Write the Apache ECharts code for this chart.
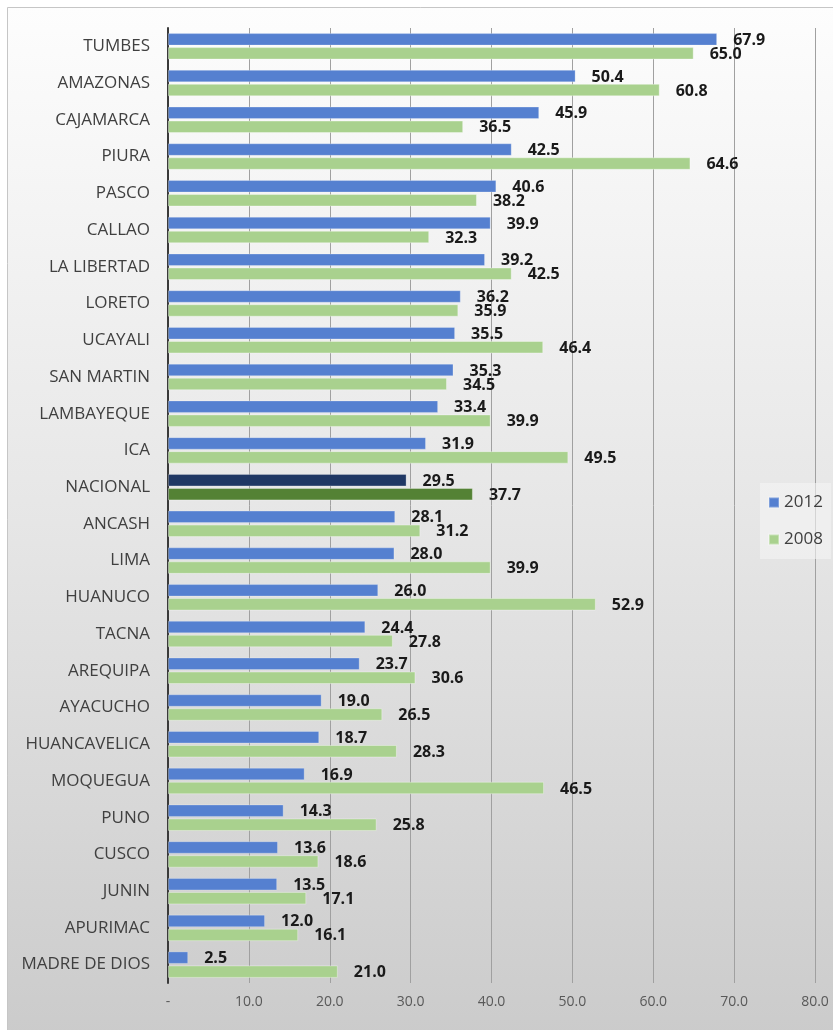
<!DOCTYPE html>
<html>
<head>
<meta charset="utf-8">
<script src="https://cdn.jsdelivr.net/npm/echarts@6/dist/echarts.min.js"></script>
<style>
html,body{margin:0;padding:0;background:#fff;}
#chart{width:833px;height:1030px;}
</style>
</head>
<body>
<div id="chart"></div>
<script>
var regions = ['TUMBES','AMAZONAS','CAJAMARCA','PIURA','PASCO','CALLAO','LA LIBERTAD','LORETO','UCAYALI','SAN MARTIN','LAMBAYEQUE','ICA','NACIONAL','ANCASH','LIMA','HUANUCO','TACNA','AREQUIPA','AYACUCHO','HUANCAVELICA','MOQUEGUA','PUNO','CUSCO','JUNIN','APURIMAC','MADRE DE DIOS'];
var values2012 = [67.9,50.4,45.9,42.5,40.6,39.9,39.2,36.2,35.5,35.3,33.4,31.9,29.5,28.1,28.0,26.0,24.4,23.7,19.0,18.7,16.9,14.3,13.6,13.5,12.0,2.5];
var values2008 = [65.0,60.8,36.5,64.6,38.2,32.3,42.5,35.9,46.4,34.5,39.9,49.5,37.7,31.2,39.9,52.9,27.8,30.6,26.5,28.3,46.5,25.8,18.6,17.1,16.1,21.0];
var highlight = 'NACIONAL';

var chart = echarts.init(document.getElementById('chart'));

// NACIONAL se pinta con tonos oscuros
function buildData(vals, darkColor){
	return vals.map(function(v, i){
		if(regions[i] == highlight){
			return {value: v, itemStyle: {color: darkColor}};
		}
		return v;
	});
}

var labelOpt = {
	show: true,
	position: 'right',
	distance: 16,
	offset: [0, 1],
	color: '#1a1a1a',
	fontFamily: 'Open Sans',
	fontWeight: 'bold',
	fontSize: 16,
	formatter: function(p){ return p.value.toFixed(1); }
};

var option = {
	animation: false,
	graphic: [{
		type: 'rect',
		z: -10,
		shape: {x: 7.5, y: 7.5, width: 830, height: 1030},
		style: {
			fill: new echarts.graphic.LinearGradient(0, 0, 0, 1, [
				{offset: 0, color: '#fdfdfd'},
				{offset: 0.5, color: '#e6e6e6'},
				{offset: 1, color: '#cbcbcb'}
			]),
			stroke: '#c6c6c6',
			lineWidth: 1
		}
	}],
	legend: {
		orient: 'vertical',
		left: 760,
		top: 483,
		padding: [9, 8, 9, 8],
		backgroundColor: 'rgba(245,245,245,0.6)',
		itemWidth: 10,
		itemHeight: 10,
		itemGap: 16,
		icon: 'rect',
		textStyle: {fontFamily: 'Open Sans', fontSize: 17, color: '#404040', lineHeight: 21},
		data: ['2012', '2008']
	},
	grid: {left: 168, right: 18, top: 28, bottom: 47, containLabel: false},
	xAxis: {
		type: 'value',
		min: 0,
		max: 80,
		interval: 10,
		axisLine: {show: false},
		axisTick: {show: false},
		splitLine: {show: true, lineStyle: {color: '#a0a0a0', width: 1}},
		axisLabel: {
			margin: 12,
			color: '#595959',
			fontFamily: 'Open Sans',
			fontSize: 14,
			formatter: function(v){ return v == 0 ? '-' : v.toFixed(1); }
		}
	},
	yAxis: {
		type: 'category',
		inverse: true,
		data: regions,
		axisTick: {show: false},
		axisLine: {show: true, lineStyle: {color: '#3a3a3a', width: 2}},
		axisLabel: {
			margin: 18,
			color: '#404040',
			fontFamily: 'Open Sans',
			fontSize: 17
		}
	},
	series: [
		{
			name: '2012',
			type: 'bar',
			barWidth: 12.5,
			barGap: '12%',
			itemStyle: {color: '#5580d0', borderColor: 'rgba(255,255,255,0.25)', borderWidth: 1},
			label: labelOpt,
			data: buildData(values2012, '#203864')
		},
		{
			name: '2008',
			type: 'bar',
			barWidth: 12.5,
			itemStyle: {color: '#a9d18e', borderColor: 'rgba(255,255,255,0.35)', borderWidth: 1},
			label: labelOpt,
			data: buildData(values2008, '#548235')
		}
	]
};
chart.setOption(option);
</script>
</body>
</html>
